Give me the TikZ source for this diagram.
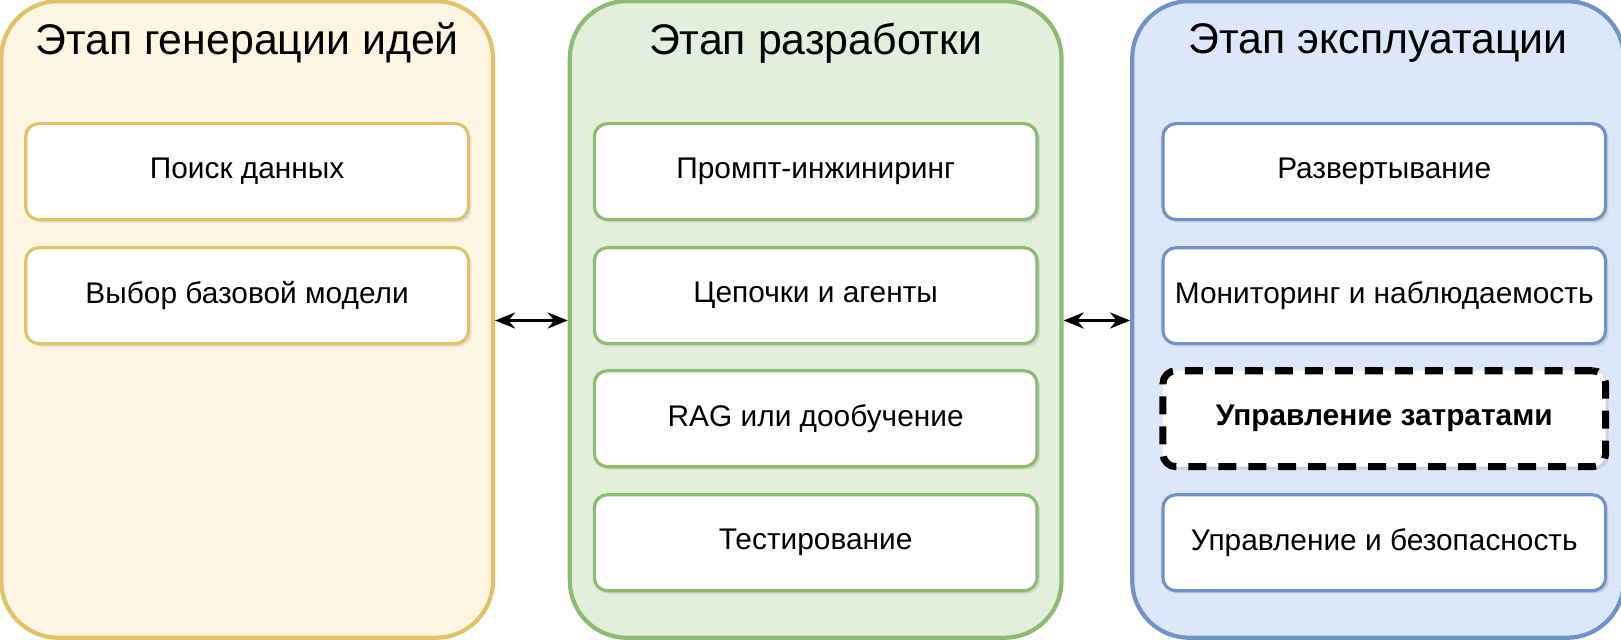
\documentclass[tikz,border=0pt]{standalone}
\usepackage{fontspec}
\setmainfont{Liberation Sans}
\usetikzlibrary{shadows,arrows.meta}
\definecolor{ideafill}{HTML}{FEF6E2}
\definecolor{ideadraw}{HTML}{E0C26A}
\definecolor{devfill}{HTML}{E2EFDD}
\definecolor{devdraw}{HTML}{8DBB74}
\definecolor{opsfill}{HTML}{DCE8FA}
\definecolor{opsdraw}{HTML}{7092C4}
\tikzset{
  stage/.style={draw=#1draw, fill=#1fill, line width=1.2pt, rounded corners=0.57cm,
    minimum width=4.92cm, minimum height=6.37cm, inner sep=0pt},
  stagetitle/.style={font=\fontsize{12.2pt}{14pt}\selectfont, inner sep=0pt},
  step/.style={draw=#1draw, fill=white, line width=0.9pt, rounded corners=0.13cm,
    minimum width=4.43cm, minimum height=0.96cm, inner sep=0pt,
    font=\fontsize{8.5pt}{10pt}\selectfont,
    drop shadow={shadow xshift=0.03cm, shadow yshift=-0.03cm, opacity=0.2}},
  link/.style={{Stealth[length=0.2cm,width=0.16cm]}-{Stealth[length=0.2cm,width=0.16cm]}, line width=1pt}
}
\begin{document}
\begin{tikzpicture}[x=0.01034cm,y=-0.01034cm]
\useasboundingbox (0,0) rectangle (1568,619);
% stages
\node[stage=idea] (s1) at (239,309) {};
\node[stage=dev] (s2) at (789,309) {};
\node[stage=ops] (s3) at (1333,309) {};
\node[stagetitle] (t1) at (239,42) {Этап генерации идей};
\node[stagetitle] (t2) at (789,42) {Этап разработки};
\node[stagetitle] (t3) at (1333,42) {Этап эксплуатации};
% steps
\node[step=idea] (a1) at (239,166) {Поиск данных};
\node[step=idea] (a2) at (239,286) {Выбор базовой модели};
\node[step=dev] (b1) at (789,166) {Промпт-инжиниринг};
\node[step=dev] (b2) at (789,286) {Цепочки и агенты};
\node[step=dev] (b3) at (789,405) {RAG или дообучение};
\node[step=dev] (b4) at (789,525) {Тестирование};
\node[step=ops] (c1) at (1339,166) {Развертывание};
\node[step=ops] (c2) at (1339,286) {Мониторинг и наблюдаемость};
\node[step=ops, draw=black, line width=2pt, dash pattern=on 0.18cm off 0.12cm,
  font=\fontsize{8.5pt}{10pt}\selectfont\bfseries] (c3) at (1339,405) {Управление затратами};
\node[step=ops] (c4) at (1339,525) {Управление и безопасность};
% links
\coordinate (l1) at (s1.east |- 0,310);
\coordinate (r1) at (s2.west |- 0,310);
\coordinate (l2) at (s2.east |- 0,310);
\coordinate (r2) at (s3.west |- 0,310);
\draw[link] (l1) -- (r1);
\draw[link] (l2) -- (r2);
\end{tikzpicture}
\end{document}
